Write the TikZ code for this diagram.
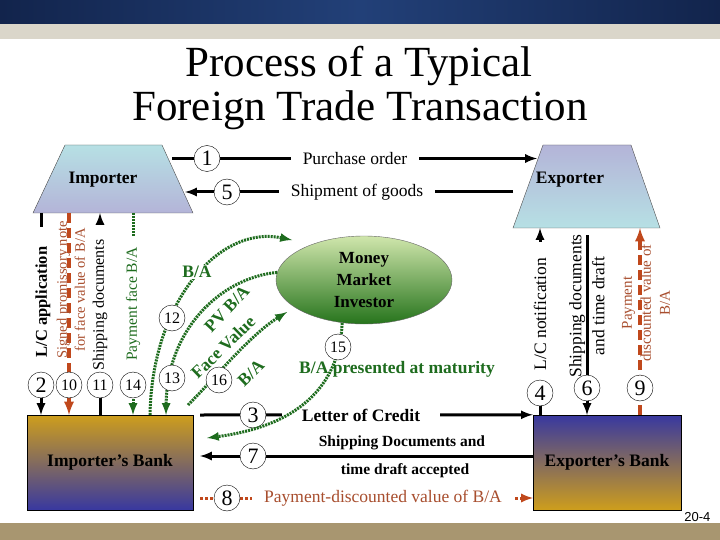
\documentclass[tikz,border=0pt]{standalone}
\usepackage{fontspec}
\setmainfont{Liberation Serif}
\setsansfont{Liberation Sans}
\usetikzlibrary{arrows,shapes,calc}
\definecolor{navy}{RGB}{18,36,76}
\definecolor{navyl}{RGB}{34,64,120}
\definecolor{band}{RGB}{218,214,202}
\definecolor{tan}{RGB}{168,150,112}
\definecolor{dgreen}{RGB}{30,108,30}
\definecolor{rust}{RGB}{192,72,28}
\definecolor{rusttx}{RGB}{168,78,46}
\definecolor{gold}{RGB}{206,158,28}
\definecolor{bblue}{RGB}{56,56,160}
\definecolor{cyanl}{RGB}{182,224,228}
\definecolor{lav}{RGB}{180,180,216}
\definecolor{mgl}{RGB}{208,230,172}
\definecolor{mgd}{RGB}{38,116,28}
\tikzset{num/.style={circle,draw,fill=white,inner sep=0pt,minimum size=26pt,font=\fontsize{22}{22}\selectfont},
  snum/.style={num,font=\fontsize{16}{16}\selectfont},
  blk/.style={line width=3pt},
  gdot/.style={draw=dgreen,line width=3pt,dash pattern=on 2pt off 1pt},
  rdash/.style={draw=rust,line width=3.5pt,dash pattern=on 10pt off 5pt},
  rdot/.style={draw=rust,line width=3pt,dash pattern=on 3pt off 2pt},
  bank/.style={draw,minimum height=95pt,font=\bfseries\fontsize{17.5}{20}\selectfont},
  hd/.style={font=\bfseries\fontsize{17.5}{20}\selectfont},
  lbl/.style={font=\fontsize{17.5}{20}\selectfont,inner sep=1pt},
  vlab/.style={rotate=90,align=center,inner sep=1pt},
  glab/.style={text=dgreen,font=\bfseries\fontsize{17.5}{20}\selectfont,inner sep=1pt}}
\begin{document}
\begin{tikzpicture}[x=1pt,y=1pt]
  \useasboundingbox (0,0) rectangle (720,-540);
  % slide frame
  \shade[left color=navy,right color=navy,middle color=navyl] (0,0) rectangle (720,-24);
  \fill[band] (0,-24) rectangle (720,-39);
  \fill[tan] (0,-523) rectangle (720,-540);
  \node[font=\sffamily\fontsize{13}{13}\selectfont,anchor=east] (pg) at (714,-517) {20-4};
  \node[font=\fontsize{43}{43}\selectfont,anchor=base] (t1) at (359,-77) {Process of a Typical};
  \node[font=\fontsize{43}{43}\selectfont,anchor=base] (t2) at (360,-121) {Foreign Trade Transaction};

  % parties
  \shade[draw=black!70,top color=cyanl,bottom color=lav] (65,-145) -- (162,-145) -- (193,-213) -- (33,-213) -- cycle;
  \shade[draw=black!70,top color=lav,bottom color=cyanl] (543,-145) -- (631,-145) -- (660,-228) -- (513,-228) -- cycle;
  \node[hd] (imp) at (103,-180) {Importer};
  \node[hd] (exp) at (570,-180) {Exporter};
  \node[bank,minimum width=166pt,top color=gold,bottom color=bblue] (ibank) at (110,-462.5) {Importer’s Bank};
  \node[bank,minimum width=148pt,top color=bblue,bottom color=gold] (ebank) at (607,-462.5) {Exporter’s Bank};
  \node[ellipse,draw=black!60,top color=mgl,bottom color=mgd,minimum width=176pt,minimum height=88pt,inner sep=0pt,
    align=center,font=\bfseries\fontsize{17}{22}\selectfont] (inv) at (364,-280) {Money\\Market\\Investor};

  % ends of the connectors
  \coordinate (po1) at (172,-158.5); \coordinate (po2) at (537,-158.5);
  \coordinate (sg1) at (513,-192); \coordinate (sg2) at (185,-192);
  \coordinate (lc1) at (200,-415); \coordinate (sd1) at (533,-456); \coordinate (sd2) at (200,-456);
  \coordinate (pd1) at (200,-498); \coordinate (pd2) at (533,-498);
  \coordinate (fv1) at (188,-405); \coordinate (ba2) at (292,-240); \coordinate (fv2) at (287,-312);
  \coordinate (mt2) at (207,-438);

  % top rows
  \draw[blk,-latex] (po1) -- (po2);
  \draw[blk,-latex] (sg1) -- (sg2);
  \node[num] (n1) at (207,-158.5) {1};
  \node[lbl,fill=white,inner xsep=12pt] (po) at (355,-158.5) {Purchase order};
  \node[num] (n5) at (227,-192) {5};
  \node[lbl,fill=white,inner xsep=12pt] (sg) at (357,-192) {Shipment of goods};

  % importer side
  \draw[blk,-latex] (41,-213) -- (41,-415);
  \draw[rdash,-latex] (69,-213) -- (69,-415);
  \draw[blk,-latex] (100,-415) -- (100,-213);
  \draw[gdot,-latex] (133,-213) -- (133,-415);
  \node[vlab,fill=white,inner xsep=20pt,font=\bfseries\fontsize{16.5}{20}\selectfont] (lca) at (43,-302) {L/C application};
  \node[vlab,text=rusttx,font=\fontsize{14.5}{18}\selectfont] (spn) at (71,-290) {Signed promissory note\\for face value of B/A};
  \node[vlab,fill=white,inner xsep=14pt,font=\fontsize{16}{18}\selectfont] (sdi) at (100,-305) {Shipping documents};
  \node[vlab,fill=white,inner xsep=10pt,text=dgreen,font=\fontsize{15.5}{18}\selectfont] (pfb) at (133,-304) {Payment face B/A};
  \node[num] (n2) at (41,-385) {2};
  \node[snum] (n10) at (69,-385) {10};
  \node[snum] (n11) at (100,-385) {11};
  \node[snum] (n14) at (133,-385) {14};

  % exporter side
  \draw[blk,-latex] (540,-415) -- (540,-228);
  \draw[blk,-latex] (587,-235) -- (587,-415);
  \draw[rdash,-latex] (640,-415) -- (640,-228);
  \node[vlab,fill=white,inner xsep=16pt,font=\fontsize{17.5}{20}\selectfont] (lcn) at (540,-314) {L/C notification};
  \node[vlab,font=\fontsize{17.5}{23}\selectfont] (sde) at (587,-306) {Shipping documents\\and time draft};
  \node[vlab,text=rusttx,font=\fontsize{15}{19}\selectfont] (pdv) at (646,-303) {Payment\\discounted value of\\B/A};
  \node[num] (n4) at (540,-393) {4};
  \node[num] (n6) at (587,-388) {6};
  \node[num] (n9) at (640,-388) {9};

  % bank rows
  \draw[blk,-latex] (lc1) -- (ebank.north west);
  \draw[blk,-latex] (sd1) -- (sd2);
  \draw[rdot,-latex] (pd1) -- (pd2);
  \node[num] (n3) at (253,-415) {3};
  \node[hd,fill=white,inner xsep=20pt] (loc) at (361,-415) {Letter of Credit};
  \node[num] (n7) at (253,-456) {7};
  \node[font=\bfseries\fontsize{15.5}{18}\selectfont] (sda) at (402,-443) {Shipping Documents and};
  \node[font=\bfseries\fontsize{15.5}{18}\selectfont] (tda) at (405,-471) {time draft accepted};
  \node[num] (n8) at (227,-498) {8};
  \node[lbl,text=rusttx,fill=white,inner xsep=12pt] (pdb) at (383,-498) {Payment-discounted value of B/A};

  % money market
  \draw[gdot,-latex] (150,-415) .. controls (152,-300) and (220,-225) .. (ba2);
  \draw[gdot,-latex] (inv.175) .. controls (220,-278) and (167,-330) .. (166,-415);
  \draw[gdot,-latex] (fv1) .. controls (215,-378) and (250,-335) .. (fv2);
  \draw[gdot,-latex] (inv.-117) .. controls (340,-380) and (305,-425) .. (mt2);
  \node[glab,fill=white] (ba) at (197,-272) {B/A};
  \node[glab,rotate=47] (pv) at (227,-309) {PV B/A};
  \node[glab,rotate=44] (fv) at (223,-347) {Face Value};
  \node[glab,rotate=44] (fb) at (251,-373) {B/A};
  \node[glab] (mat) at (397,-369) {B/A presented at maturity};
  \node[snum] (n12) at (172,-318) {12};
  \node[snum] (n13) at (172,-378) {13};
  \node[snum] (n16) at (219,-380) {16};
  \node[snum] (n15) at (338,-347) {15};
\end{tikzpicture}
\end{document}
